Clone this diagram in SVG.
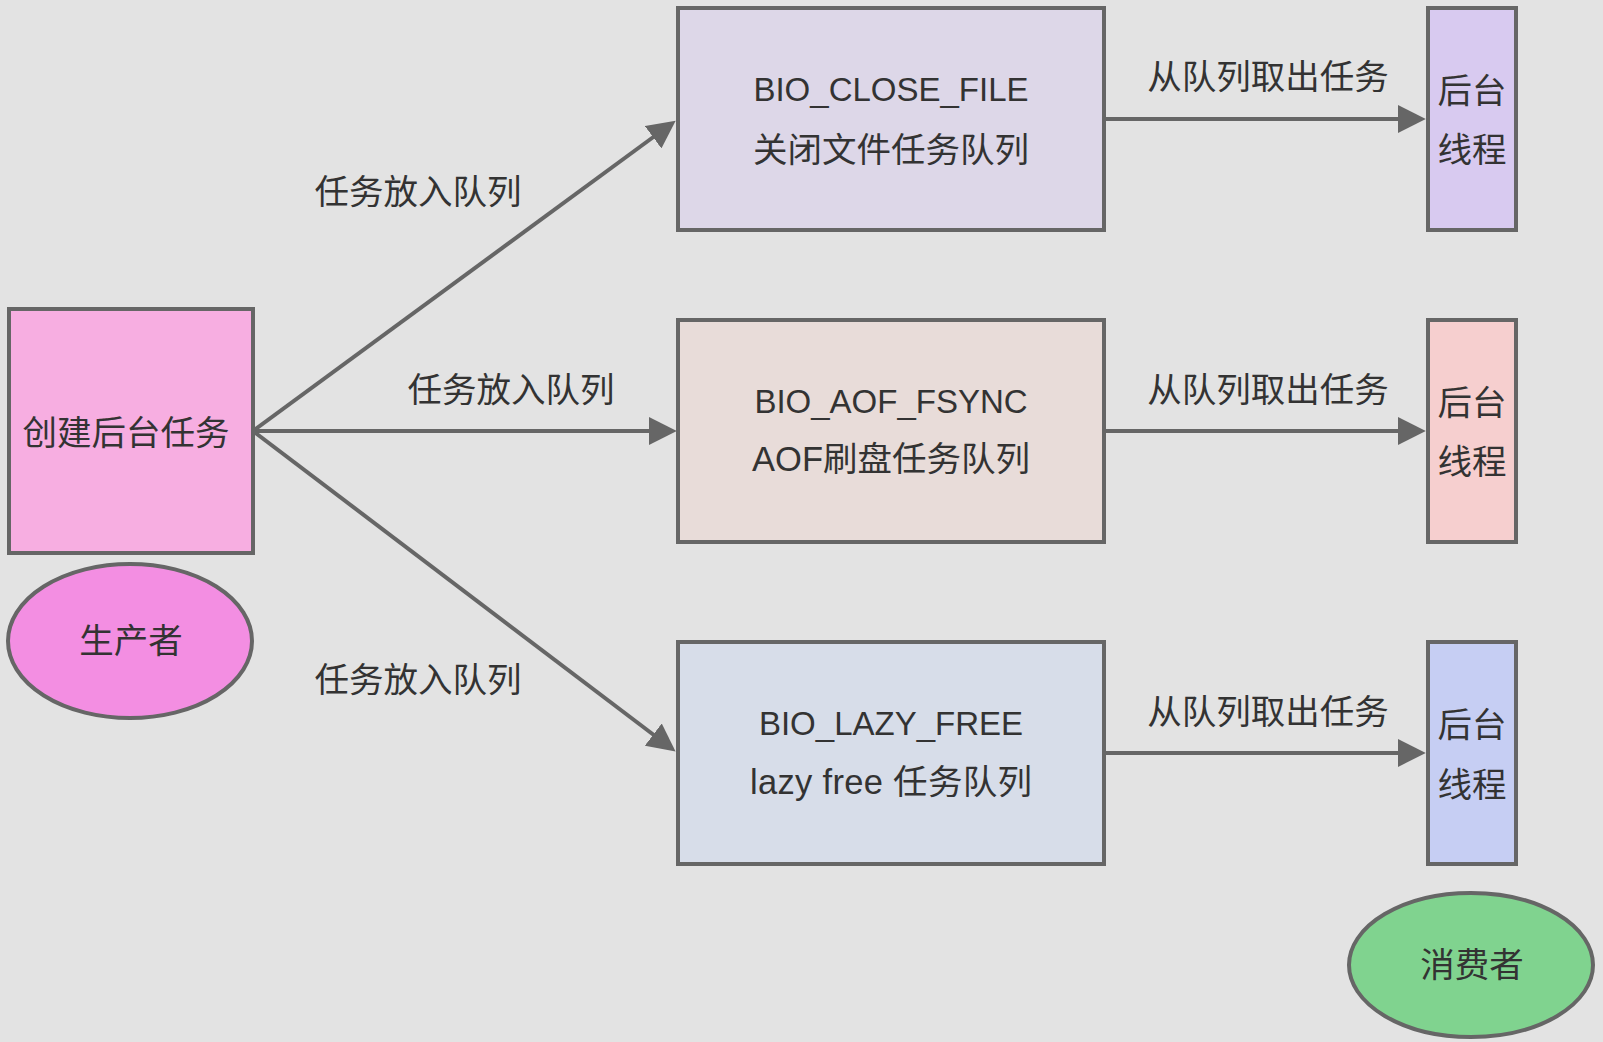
<svg xmlns="http://www.w3.org/2000/svg" width="1603" height="1042" viewBox="0 0 1603 1042">
<style>
.box{stroke:#666;stroke-width:4}
.t{font-family:"Liberation Sans","Noto Sans CJK SC",sans-serif;font-size:33px;fill:#333;text-anchor:middle;dominant-baseline:central}
.m{font-family:"Liberation Sans","Noto Sans CJK SC",sans-serif;font-size:34.5px;fill:#333;text-anchor:middle;dominant-baseline:central}
.c{font-family:"Noto Sans CJK SC",sans-serif;font-size:34.5px;fill:#333;text-anchor:middle;dominant-baseline:central}
.ln{stroke:#666;stroke-width:4;fill:none}
</style>
<defs>
<marker id="ah" markerUnits="userSpaceOnUse" markerWidth="28" markerHeight="28" viewBox="0 0 26 26" refX="16" refY="13" orient="auto">
<path d="M0,0 L26,13 L0,26 Z" fill="#666"/>
</marker>
</defs>
<rect width="1603" height="1042" fill="#e3e3e3"/>
<g id="connectors">
<line class="ln" x1="253" y1="431" x2="667" y2="127" marker-end="url(#ah)"/>
<line class="ln" x1="253" y1="431" x2="666" y2="431" marker-end="url(#ah)"/>
<line class="ln" x1="253" y1="431" x2="667" y2="745" marker-end="url(#ah)"/>
<line class="ln" x1="1104" y1="119" x2="1415" y2="119" marker-end="url(#ah)"/>
<line class="ln" x1="1104" y1="431" x2="1415" y2="431" marker-end="url(#ah)"/>
<line class="ln" x1="1104" y1="753" x2="1415" y2="753" marker-end="url(#ah)"/>
<text class="c" x="418" y="189">任务放入队列</text>
<text class="c" x="511" y="387">任务放入队列</text>
<text class="c" x="418" y="677">任务放入队列</text>
<text class="c" x="1268" y="74">从队列取出任务</text>
<text class="c" x="1268" y="387">从队列取出任务</text>
<text class="c" x="1268" y="709">从队列取出任务</text>
</g>
<g id="create">
<rect class="box" x="9" y="309" width="244" height="244" fill="#f7aee1"/>
<text class="c" x="126" y="430">创建后台任务</text>
</g>
<g id="producer">
<ellipse class="box" cx="130" cy="641" rx="122" ry="77" fill="#f38ee2"/>
<text class="c" x="131" y="638">生产者</text>
</g>
<g id="q1">
<rect class="box" x="678" y="8" width="426" height="222" fill="#ddd7e8"/>
<text class="t" x="891" y="89">BIO_CLOSE_FILE</text>
<text class="c" x="891" y="147">关闭文件任务队列</text>
</g>
<g id="q2">
<rect class="box" x="678" y="320" width="426" height="222" fill="#e8dcd9"/>
<text class="t" x="891" y="401">BIO_AOF_FSYNC</text>
<text class="m" x="891" y="459">AOF刷盘任务队列</text>
</g>
<g id="q3">
<rect class="box" x="678" y="642" width="426" height="222" fill="#d7dde9"/>
<text class="t" x="891" y="723">BIO_LAZY_FREE</text>
<text class="m" x="891" y="782" textLength="282" lengthAdjust="spacing">lazy free 任务队列</text>
</g>
<g id="w1">
<rect class="box" x="1428" y="8" width="88" height="222" fill="#d8caf0"/>
<text class="c" x="1472" y="88">后台</text>
<text class="c" x="1472" y="147">线程</text>
</g>
<g id="w2">
<rect class="box" x="1428" y="320" width="88" height="222" fill="#f6cfcf"/>
<text class="c" x="1472" y="400">后台</text>
<text class="c" x="1472" y="459">线程</text>
</g>
<g id="w3">
<rect class="box" x="1428" y="642" width="88" height="222" fill="#c6cef3"/>
<text class="c" x="1472" y="722">后台</text>
<text class="c" x="1472" y="782">线程</text>
</g>
<g id="consumer">
<ellipse class="box" cx="1471" cy="965" rx="122" ry="72" fill="#80d38f"/>
<text class="c" x="1472" y="962">消费者</text>
</g>
</svg>
